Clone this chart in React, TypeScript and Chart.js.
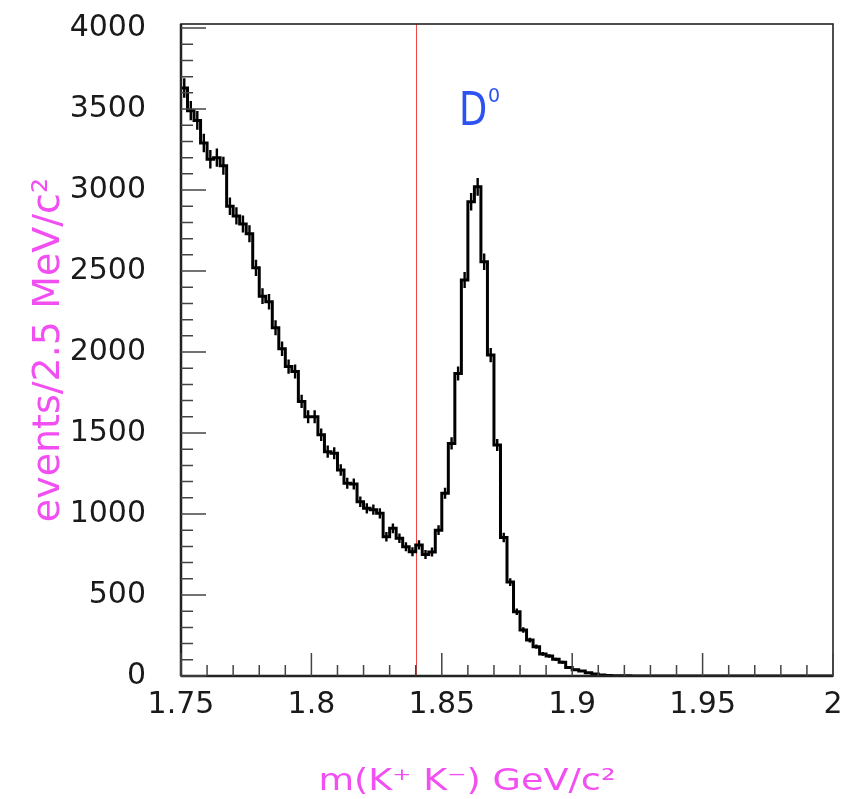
import React, { useEffect, useRef } from 'react';
import { Chart, registerables } from 'chart.js';

Chart.register(...registerables);

// ---- data ----
const binStart = 1.75;
const binWidth = 0.0025;
const counts: number[] = [
  3630, 3490, 3430, 3290, 3190, 3200, 3150, 2900, 2840, 2790,
  2730, 2520, 2345, 2310, 2150, 2020, 1910, 1880, 1695, 1600,
  1600, 1490, 1385, 1375, 1272, 1190, 1185, 1076, 1035, 1027,
  1004, 860, 912, 850, 798, 767, 809, 750, 765, 900,
  1128, 1436, 1868, 2444, 2928, 3020, 2557, 1981, 1426, 855,
  580, 397, 284, 222, 181, 136, 123, 103, 85, 52,
  38, 31, 20, 12, 6, 3, 2, 1, 1, 0,
  0, 0, 0, 0, 0, 0, 0, 0, 0, 0,
  0, 0, 0, 0, 0, 0, 0, 0, 0, 0,
  0, 0, 0, 0, 0, 0, 0, 0, 0, 0,
];
const xTicks = [1.75, 1.8, 1.85, 1.9, 1.95, 2.0];
const yTicks = [0, 500, 1000, 1500, 2000, 2500, 3000, 3500, 4000];
const xMinorStep = 0.01;
const yMinorStep = 100;
const xMin = 1.75;
const xMax = 2.0;
const yMin = 0;
const yMax = 4025;
const markerMass = 1.84;
const peakLabel = 'D';
const peakLabelSup = '0';
const peakLabelMass = 1.8566;
const peakLabelValue = 3401;
const xTitle = 'm(K\u207A K\u207B) GeV/c\u00B2';
const yTitle = 'events/2.5 MeV/c\u00B2';

const FONT = '"DejaVu Sans", sans-serif';
const MAGENTA = '#f24ff2';
const BLUE = '#2d52f2';

const decorPlugin = {
  id: 'decor',
  beforeDatasetsDraw(chart: any) {
    const { ctx, chartArea, scales } = chart;
    const xs = scales.x;
    const px = Math.round(xs.getPixelForValue(markerMass)) + 0.5;
    ctx.save();
    ctx.strokeStyle = 'rgb(240,70,70)';
    ctx.lineWidth = 1;
    ctx.beginPath();
    ctx.moveTo(px, chartArea.top);
    ctx.lineTo(px, chartArea.bottom);
    ctx.stroke();
    ctx.restore();
  },
  afterDatasetsDraw(chart: any) {
    const { ctx, chartArea, scales } = chart;
    const xs = scales.x;
    const ys = scales.y;
    const { left, right, top, bottom } = chartArea;
    ctx.save();

    // error bars
    ctx.strokeStyle = '#000';
    ctx.lineWidth = 2.4;
    ctx.beginPath();
    counts.forEach((c, i) => {
      if (c <= 0) return;
      const e = Math.sqrt(c);
      const xc = xs.getPixelForValue(binStart + (i + 0.5) * binWidth);
      ctx.moveTo(xc, ys.getPixelForValue(c - e));
      ctx.lineTo(xc, ys.getPixelForValue(c + e));
    });
    ctx.stroke();

    // frame
    ctx.strokeStyle = '#222';
    ctx.lineWidth = 1.6;
    ctx.strokeRect(left, top, right - left, bottom - top);
    ctx.lineWidth = 2.5;
    ctx.beginPath();
    ctx.moveTo(left, bottom);
    ctx.lineTo(right, bottom);
    ctx.moveTo(left, bottom);
    ctx.lineTo(left, top);
    ctx.stroke();

    // ticks (inward)
    ctx.strokeStyle = '#444';
    ctx.lineWidth = 1.5;
    ctx.beginPath();
    const nx = Math.round((xMax - xMin) / xMinorStep);
    for (let k = 0; k <= nx; k++) {
      const v = xMin + k * xMinorStep;
      const p = xs.getPixelForValue(v);
      const major = k % 5 === 0;
      ctx.moveTo(p, bottom);
      ctx.lineTo(p, bottom - (major ? 23 : 11));
    }
    const ny = Math.floor((4000 - yMin) / yMinorStep);
    for (let k = 0; k <= ny; k++) {
      const v = yMin + k * yMinorStep;
      const p = ys.getPixelForValue(v);
      const major = k % 5 === 0;
      ctx.moveTo(left, p);
      ctx.lineTo(left + (major ? 25 : 12), p);
    }
    ctx.stroke();

    // axis titles
    ctx.fillStyle = MAGENTA;
    ctx.textAlign = 'center';
    ctx.textBaseline = 'alphabetic';
    ctx.save();
    ctx.translate(467, 790);
    ctx.scale(1.22, 1);
    ctx.font = `30px ${FONT}`;
    ctx.fillText(xTitle, 0, 0);
    ctx.restore();

    ctx.save();
    ctx.translate(59, 350);
    ctx.rotate(-Math.PI / 2);
    ctx.font = `38px ${FONT}`;
    ctx.fillText(yTitle, 0, 0);
    ctx.restore();

    // peak label
    const lx = xs.getPixelForValue(peakLabelMass);
    const ly = ys.getPixelForValue(peakLabelValue);
    ctx.fillStyle = BLUE;
    ctx.textAlign = 'left';
    ctx.save();
    ctx.translate(lx, ly);
    ctx.scale(0.78, 1);
    ctx.font = `47px ${FONT}`;
    ctx.fillText(peakLabel, 0, 0);
    ctx.restore();
    ctx.font = `19px ${FONT}`;
    ctx.fillText(peakLabelSup, lx + 29, ly - 23);

    ctx.restore();
  },
};

export default function App() {
  const ref = useRef<HTMLCanvasElement | null>(null);

  useEffect(() => {
    if (!ref.current) return;
    const points = counts.map((c, i) => ({ x: binStart + i * binWidth, y: c }));
    points.push({ x: binStart + counts.length * binWidth, y: counts[counts.length - 1] });

    const chart = new Chart(ref.current, {
      type: 'line',
      data: {
        datasets: [
          {
            data: points,
            stepped: 'before',
            borderColor: '#000',
            borderWidth: 3,
            pointRadius: 0,
            fill: false,
          },
        ],
      },
      options: {
        animation: false,
        responsive: false,
        events: [],
        layout: { padding: { top: 24, right: 9, left: 0, bottom: 0 } },
        plugins: {
          legend: { display: false },
          tooltip: { enabled: false },
        },
        scales: {
          x: {
            type: 'linear',
            min: xMin,
            max: xMax,
            grid: { display: false, drawTicks: false },
            border: { display: false },
            afterBuildTicks: (s: any) => {
              s.ticks = xTicks.map((v) => ({ value: v }));
            },
            afterFit: (s: any) => {
              s.height = 123;
              s.paddingLeft = 0;
              s.paddingRight = 0;
            },
            ticks: {
              autoSkip: false,
              maxRotation: 0,
              padding: 11,
              color: '#1a1a1a',
              font: { family: FONT, size: 30 },
              callback: (v: any) => String(Number(Number(v).toFixed(2))),
            },
          },
          y: {
            type: 'linear',
            min: yMin,
            max: yMax,
            grid: { display: false, drawTicks: false },
            border: { display: false },
            afterBuildTicks: (s: any) => {
              s.ticks = yTicks.map((v) => ({ value: v }));
            },
            afterFit: (s: any) => {
              s.width = 181;
              s.paddingTop = 0;
              s.paddingBottom = 0;
            },
            ticks: {
              autoSkip: false,
              padding: 35,
              color: '#1a1a1a',
              font: { family: FONT, size: 30 },
              callback: (v: any) => String(v),
            },
          },
        },
      },
      plugins: [decorPlugin],
    });
    return () => chart.destroy();
  }, []);

  return (
    <div style={{ position: 'fixed', left: 0, top: 0, width: 842, height: 799, background: '#fff' }}>
      <canvas ref={ref} width={842} height={799} style={{ width: 842, height: 799 }} />
    </div>
  );
}
